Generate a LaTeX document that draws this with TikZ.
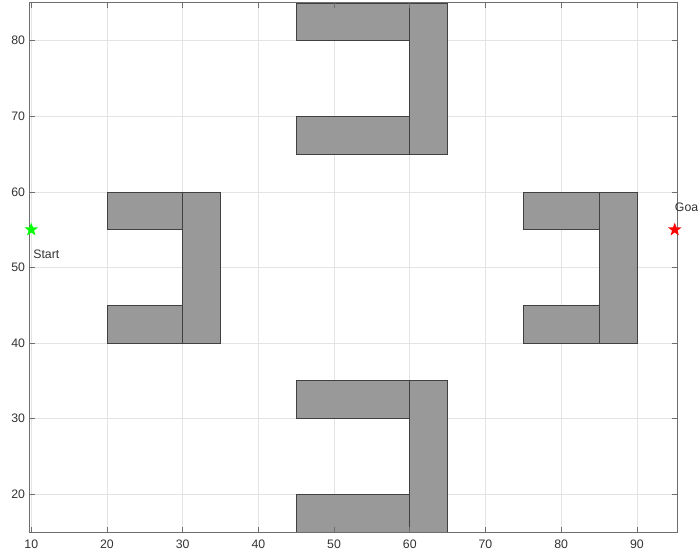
\documentclass[tikz,border=0pt]{standalone}
\usepackage{fontspec}
\setmainfont{Liberation Sans}
\usetikzlibrary{shapes.geometric}
\definecolor{obst}{HTML}{999999}
\definecolor{obstedge}{HTML}{404040}
\definecolor{gridc}{HTML}{E3E3E3}
\definecolor{axc}{HTML}{6E6E6E}
\definecolor{txtc}{HTML}{333333}
\tikzset{
  obstacle/.style={fill=obst, draw=obstedge, line width=0.7pt},
  gridline/.style={draw=gridc, line width=0.6pt},
  axisline/.style={draw=axc, line width=0.9pt},
  tickline/.style={draw=axc, line width=0.7pt},
  ticklabel/.style={text=txtc, font=\fontsize{12.3}{14}\selectfont, inner sep=0pt},
  starmark/.style={star, star points=5, star point ratio=2.4, minimum size=14pt, inner sep=0pt, draw=none},
  plotlabel/.style={text=txtc, font=\fontsize{12.3}{14}\selectfont, inner sep=0pt, anchor=west}
}
\begin{document}
\begin{tikzpicture}[x=7.571pt, y=7.56pt]
\useasboundingbox (5.87,12.1) rectangle (98.07,85.38);
\fill[white] (5.87,12.1) rectangle (98.07,85.38);
% grid
\foreach \gx in {10,20,...,90} \draw[gridline] (\gx,15) -- (\gx,85);
\foreach \gy in {20,30,...,80} \draw[gridline] (9.8,\gy) -- (95.3,\gy);
% obstacles top
\draw[obstacle] (45,80) rectangle (60,85);
\draw[obstacle] (45,65) rectangle (60,70);
\draw[obstacle] (60,65) rectangle (65,85);
% bottom
\draw[obstacle] (45,30) rectangle (60,35);
\draw[obstacle] (45,15) rectangle (60,20);
\draw[obstacle] (60,15) rectangle (65,35);
% left
\draw[obstacle] (20,55) rectangle (30,60);
\draw[obstacle] (20,40) rectangle (30,45);
\draw[obstacle] (30,40) rectangle (35,60);
% right
\draw[obstacle] (75,55) rectangle (85,60);
\draw[obstacle] (75,40) rectangle (85,45);
\draw[obstacle] (85,40) rectangle (90,60);
% axes box and ticks
\draw[axisline] (9.8,15) rectangle (95.3,85);
\foreach \gx in {10,20,...,90} {
  \draw[tickline] (\gx,15) -- (\gx,15.7);
  \draw[tickline] (\gx,85) -- (\gx,84.3);
  \node[ticklabel, anchor=center] (xl\gx) at (\gx,13.4) {\gx};
}
\foreach \gy in {20,30,...,80} {
  \draw[tickline] (9.8,\gy) -- (10.5,\gy);
  \draw[tickline] (95.3,\gy) -- (94.6,\gy);
  \node[ticklabel, anchor=east] (yl\gy) at (9.2,\gy) {\gy};
}
% start and goal
\node[starmark, fill=green] (start) at (10,55) {};
\node[starmark, fill=red] (goal) at (95,55) {};
\node[plotlabel] (startlbl) at (10.25,51.8) {Start};
\node[plotlabel] (goallbl) at (95.0,58.0) {Goal};
\end{tikzpicture}
\end{document}
